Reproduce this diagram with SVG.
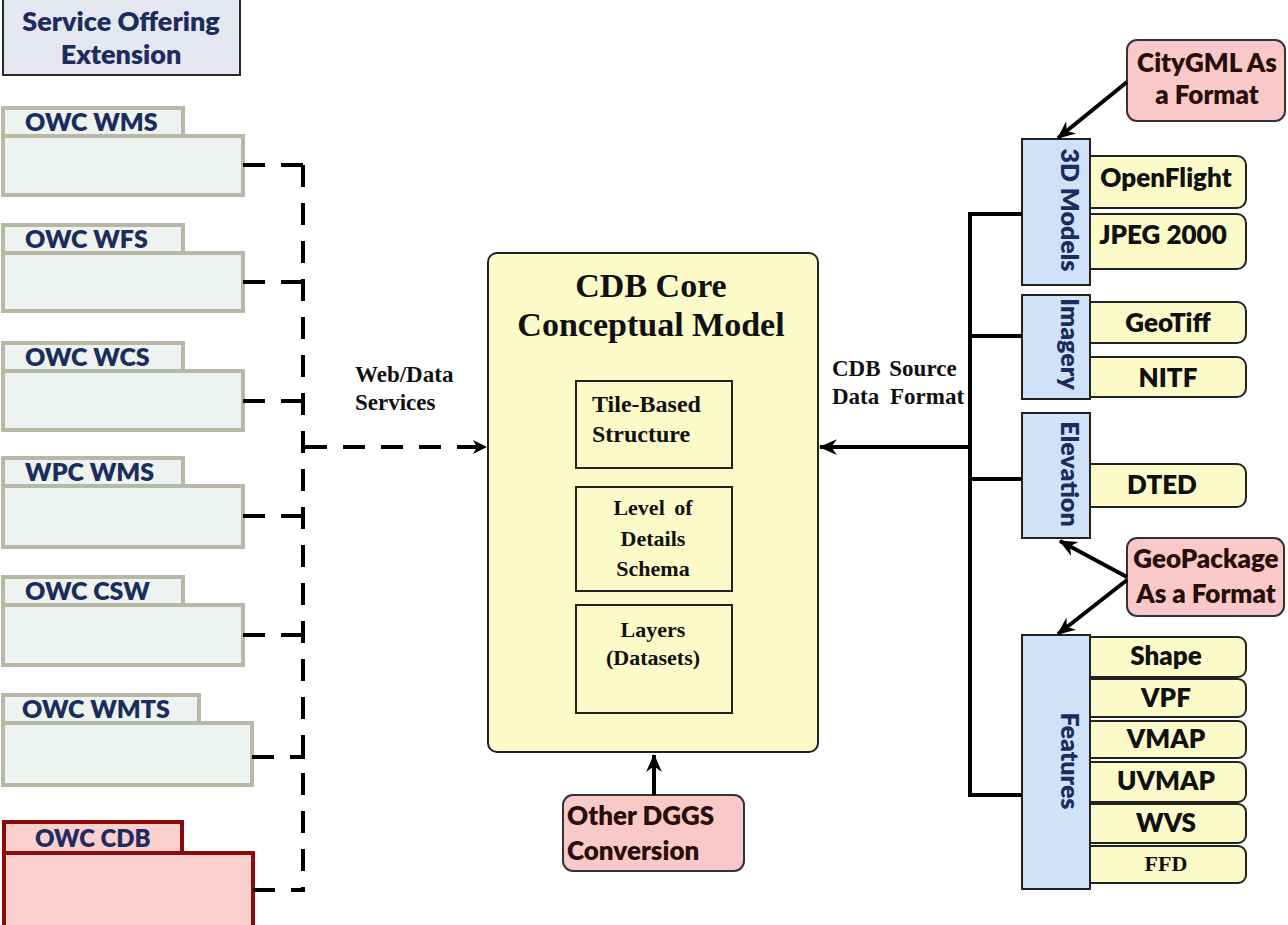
<svg xmlns="http://www.w3.org/2000/svg" width="1288" height="925" viewBox="0 0 1288 925">
<defs>
<style>
.cal{font-family:Lato,"Open Sans","Liberation Sans",sans-serif;font-weight:800}
.ser{font-family:"Liberation Serif","Times New Roman",serif;font-weight:bold;fill:#111}
.navy{fill:#1c2c5c}
.fold{fill:#edf3ee;stroke:#b8b8a6;stroke-width:4}
.foldcdb{fill:#fdd0d0;stroke:#8b0a0a;stroke-width:4}
.yel{fill:#fcfac8;stroke:#222;stroke-width:2}
.blue{fill:#cfe2f7;stroke:#222;stroke-width:2}
.pink{fill:#f9c8c8;stroke:#333;stroke-width:2}
.dash{fill:none;stroke:#000;stroke-width:4;stroke-dasharray:22 16}
.solid{fill:none;stroke:#000;stroke-width:4}
.fmt{font-size:26px;fill:#111;text-anchor:middle}
.cat{font-size:25px;text-anchor:middle}
</style>
<marker id="ah" viewBox="0 0 14 14" refX="13" refY="7" markerWidth="14" markerHeight="14" markerUnits="userSpaceOnUse" orient="auto">
<path d="M0,0 L14,7 L0,14 L4,7 z" fill="#000"/>
</marker>
<marker id="ah2" viewBox="0 0 16 16" refX="15" refY="8" markerWidth="18" markerHeight="18" markerUnits="userSpaceOnUse" orient="auto">
<path d="M0,1 L16,8 L0,15 L5,8 z" fill="#000"/>
</marker>
</defs>
<rect width="1288" height="925" fill="#fff"/>

<g id="service-offering-extension">
<rect x="3" y="-2" width="237" height="77" fill="#e5e7f1" stroke="#2a2a2a" stroke-width="2"/>
<text class="cal navy" x="121" y="31" font-size="27" text-anchor="middle">Service Offering</text>
<text class="cal navy" x="121" y="64" font-size="27" text-anchor="middle">Extension</text>
</g>

<g id="owc-wms">
<rect class="fold" x="3" y="108" width="180" height="30"/>
<rect class="fold" x="3" y="136" width="240" height="59"/>
<text class="cal navy" x="25" y="131" font-size="25">OWC WMS</text>
</g>
<g id="owc-wfs">
<rect class="fold" x="3" y="225" width="180" height="30"/>
<rect class="fold" x="3" y="253" width="240" height="58"/>
<text class="cal navy" x="25" y="248" font-size="25">OWC WFS</text>
</g>
<g id="owc-wcs">
<rect class="fold" x="3" y="343" width="180" height="30"/>
<rect class="fold" x="3" y="371" width="240" height="59"/>
<text class="cal navy" x="25" y="366" font-size="25">OWC WCS</text>
</g>
<g id="wpc-wms">
<rect class="fold" x="3" y="458" width="180" height="30"/>
<rect class="fold" x="3" y="486" width="240" height="61"/>
<text class="cal navy" x="25" y="481" font-size="25">WPC WMS</text>
</g>
<g id="owc-csw">
<rect class="fold" x="3" y="577" width="180" height="30"/>
<rect class="fold" x="3" y="605" width="240" height="60"/>
<text class="cal navy" x="25" y="600" font-size="25">OWC CSW</text>
</g>
<g id="owc-wmts">
<rect class="fold" x="3" y="695" width="196" height="30"/>
<rect class="fold" x="3" y="723" width="249" height="62"/>
<text class="cal navy" x="22" y="718" font-size="25">OWC WMTS</text>
</g>
<g id="owc-cdb">
<rect class="foldcdb" x="4" y="822" width="178" height="32"/>
<rect class="foldcdb" x="4" y="853" width="249" height="80"/>
<text class="cal navy" x="35" y="847" font-size="24">OWC CDB</text>
</g>

<g id="cdb-core">
<rect x="488" y="253" width="330" height="499" rx="9" fill="#fcfac8" stroke="#222" stroke-width="2"/>
<text class="ser" x="651" y="297" font-size="34" text-anchor="middle">CDB Core</text>
<text class="ser" x="651" y="336" font-size="34" text-anchor="middle">Conceptual Model</text>
</g>
<g id="tile-based-structure">
<rect x="576" y="381" width="156" height="87" fill="none" stroke="#222" stroke-width="2"/>
<text class="ser" x="592" y="412" font-size="24">Tile-Based</text>
<text class="ser" x="592" y="442" font-size="24">Structure</text>
</g>
<g id="level-of-details-schema">
<rect x="576" y="487" width="156" height="104" fill="none" stroke="#222" stroke-width="2"/>
<text class="ser" x="653" y="515" font-size="22" text-anchor="middle" word-spacing="4">Level of</text>
<text class="ser" x="653" y="546" font-size="22" text-anchor="middle">Details</text>
<text class="ser" x="653" y="576" font-size="22" text-anchor="middle">Schema</text>
</g>
<g id="layers-datasets">
<rect x="576" y="605" width="156" height="108" fill="none" stroke="#222" stroke-width="2"/>
<text class="ser" x="653" y="637" font-size="22" text-anchor="middle">Layers</text>
<text class="ser" x="653" y="665" font-size="22" text-anchor="middle">(Datasets)</text>
</g>

<g id="label-web-data">
<text class="ser" x="355" y="382" font-size="23">Web/Data</text>
<text class="ser" x="355" y="410" font-size="23">Services</text>
</g>
<g id="label-cdb-source">
<text class="ser" x="832" y="376" font-size="23" word-spacing="3">CDB Source</text>
<text class="ser" x="832" y="404" font-size="23" word-spacing="5">Data Format</text>
</g>

<g id="other-dggs">
<rect class="pink" x="563" y="795" width="181" height="76" rx="10"/>
<text class="cal" x="567" y="825" font-size="26" fill="#2a0d0d">Other DGGS</text>
<text class="cal" x="567" y="860" font-size="26" fill="#2a0d0d">Conversion</text>
</g>

<g id="citygml">
<rect class="pink" x="1127" y="40" width="158" height="81" rx="10"/>
<text class="cal" x="1207" y="72" font-size="26" text-anchor="middle" fill="#2a0d0d">CityGML As</text>
<text class="cal" x="1207" y="104" font-size="26" text-anchor="middle" fill="#2a0d0d">a Format</text>
</g>
<g id="geopackage">
<rect class="pink" x="1127" y="538" width="157" height="78" rx="10"/>
<text class="cal" x="1206" y="568" font-size="26" text-anchor="middle" fill="#2a0d0d">GeoPackage</text>
<text class="cal" x="1206" y="603" font-size="26" text-anchor="middle" fill="#2a0d0d">As a Format</text>
</g>

<g id="openflight">
<rect class="yel" x="1080" y="156" width="166" height="52" rx="9"/>
<text class="cal fmt" x="1166" y="187">OpenFlight</text>
</g>
<g id="jpeg2000">
<rect class="yel" x="1080" y="214" width="166" height="55" rx="9"/>
<text class="cal fmt" x="1163" y="244">JPEG 2000</text>
</g>
<g id="geotiff">
<rect class="yel" x="1080" y="302" width="166" height="41" rx="9"/>
<text class="cal fmt" x="1168" y="332">GeoTiff</text>
</g>
<g id="nitf">
<rect class="yel" x="1080" y="357" width="166" height="40" rx="9"/>
<text class="cal fmt" x="1168" y="387">NITF</text>
</g>
<g id="dted">
<rect class="yel" x="1080" y="464" width="166" height="43" rx="9"/>
<text class="cal fmt" x="1162" y="494">DTED</text>
</g>
<g id="shape">
<rect class="yel" x="1080" y="637" width="166" height="40" rx="8"/>
<text class="cal fmt" x="1166" y="665">Shape</text>
</g>
<g id="vpf">
<rect class="yel" x="1080" y="679" width="166" height="38" rx="8"/>
<text class="cal fmt" x="1166" y="707">VPF</text>
</g>
<g id="vmap">
<rect class="yel" x="1080" y="721" width="166" height="37" rx="8"/>
<text class="cal fmt" x="1166" y="748">VMAP</text>
</g>
<g id="uvmap">
<rect class="yel" x="1080" y="762" width="166" height="40" rx="8"/>
<text class="cal fmt" x="1166" y="790">UVMAP</text>
</g>
<g id="wvs">
<rect class="yel" x="1080" y="804" width="166" height="39" rx="8"/>
<text class="cal fmt" x="1166" y="832">WVS</text>
</g>
<g id="ffd">
<rect class="yel" x="1080" y="846" width="166" height="37" rx="8"/>
<text class="ser" x="1166" y="871" font-size="22" text-anchor="middle">FFD</text>
</g>

<g id="cat-3d-models">
<rect class="blue" x="1022" y="139" width="68" height="146"/>
<text class="cal cat navy" transform="translate(1061,210) rotate(90)">3D Models</text>
</g>
<g id="cat-imagery">
<rect class="blue" x="1022" y="295" width="68" height="104"/>
<text class="cal cat navy" transform="translate(1061,344) rotate(90)">Imagery</text>
</g>
<g id="cat-elevation">
<rect class="blue" x="1022" y="413" width="68" height="125"/>
<text class="cal cat navy" transform="translate(1061,474) rotate(90)">Elevation</text>
</g>
<g id="cat-features">
<rect class="blue" x="1022" y="635" width="68" height="254"/>
<text class="cal cat navy" transform="translate(1061,761) rotate(90)">Features</text>
</g>

<g id="connectors">
<path class="dash" d="M243,165 H303"/>
<path class="dash" d="M243,282 H303"/>
<path class="dash" d="M243,401 H303"/>
<path class="dash" d="M243,516 H303"/>
<path class="dash" d="M243,635 H303"/>
<path class="dash" d="M252,757 H305"/>
<path class="dash" d="M253,890 H305"/>
<path class="dash" d="M303,165 V890"/>
<path class="dash" d="M305,447 H486" marker-end="url(#ah)"/>
<path class="solid" d="M970,212 V797"/>
<path class="solid" d="M968,214 H1022 M968,336 H1022 M968,479 H1022 M968,795 H1022"/>
<path class="solid" d="M970,447 H820" marker-end="url(#ah2)"/>
<path class="solid" d="M654,795 V755" marker-end="url(#ah2)"/>
<path class="solid" d="M1127,82 L1058,138" marker-end="url(#ah2)"/>
<path class="solid" d="M1127,577 L1060,541" marker-end="url(#ah2)"/>
<path class="solid" d="M1127,580 L1058,634" marker-end="url(#ah2)"/>
</g>
</svg>
